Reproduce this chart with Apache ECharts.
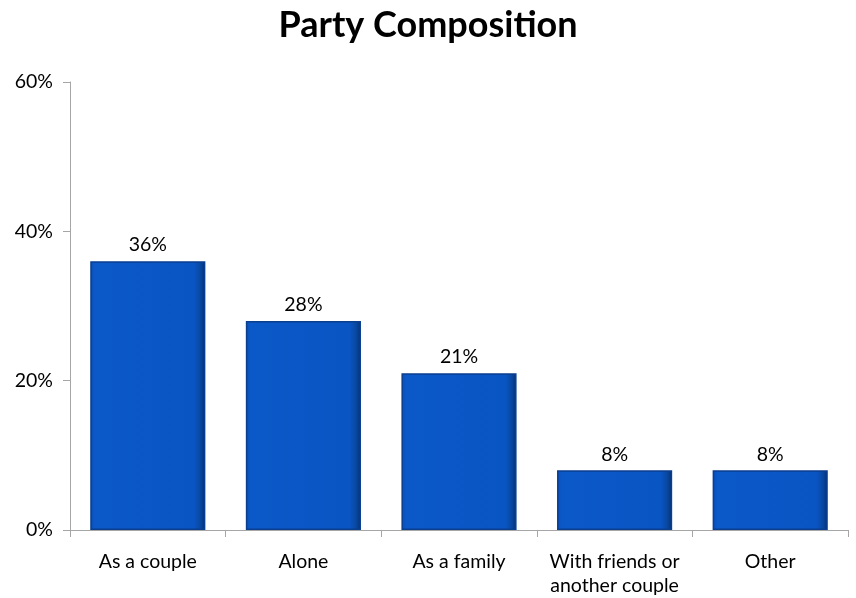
<!DOCTYPE html>
<html><head><meta charset="utf-8">
<script src="https://cdn.jsdelivr.net/npm/echarts@6/dist/echarts.min.js"></script>
<style>html,body{margin:0;padding:0;background:#fff}#c{width:856px;height:598px}</style>
</head><body><div id="c"></div>
<script>
const categories = ['As a couple', 'Alone', 'As a family', 'With friends or\nanother couple', 'Other'];
const values = [36, 28, 21, 8, 8];
const yTicks = [0, 20, 40, 60];

const chart = echarts.init(document.getElementById('c'));
chart.setOption({
  animation: false,
  title: {text: 'Party Composition', left: 'center', top: 2,
    textStyle: {fontFamily: 'Lato', fontWeight: 'bold', fontSize: 36, color: '#000'}},
  grid: {left: 70, right: 8, top: 82, bottom: 68},
  xAxis: {type: 'category', data: categories,
    axisLine: {lineStyle: {color: '#a6a6a6'}},
    axisTick: {show: true, alignWithLabel: false, length: 7, lineStyle: {color: '#a6a6a6'}},
    axisLabel: {interval: 0, fontFamily: 'Lato', fontSize: 19.5, color: '#000', margin: 20, lineHeight: 24}},
  yAxis: {type: 'value', min: 0, max: 60, interval: 20,
    axisLine: {show: true, lineStyle: {color: '#a6a6a6'}},
    axisTick: {show: true, length: 7, lineStyle: {color: '#a6a6a6'}},
    splitLine: {show: false},
    axisLabel: {fontFamily: 'Lato', fontSize: 19.5, color: '#000', margin: 17, formatter: v => v + '%'}},
  series: [{type: 'bar', data: values, barWidth: '74%',
    itemStyle: {
      color: {type: 'linear', x: 0, y: 0, x2: 1, y2: 0, colorStops: [
        {offset: 0, color: '#0A4FB5'}, {offset: 0.04, color: '#0B58C8'},
        {offset: 0.9, color: '#0A55C4'}, {offset: 0.96, color: '#08479F'}, {offset: 1, color: '#062F6E'}]},
      borderColor: '#0A3E8E', borderWidth: 1.5},
    label: {show: true, position: 'top', distance: 6, formatter: p => p.value + '%',
      fontFamily: 'Lato', fontSize: 19.5, color: '#000'}}]
});
</script></body></html>
